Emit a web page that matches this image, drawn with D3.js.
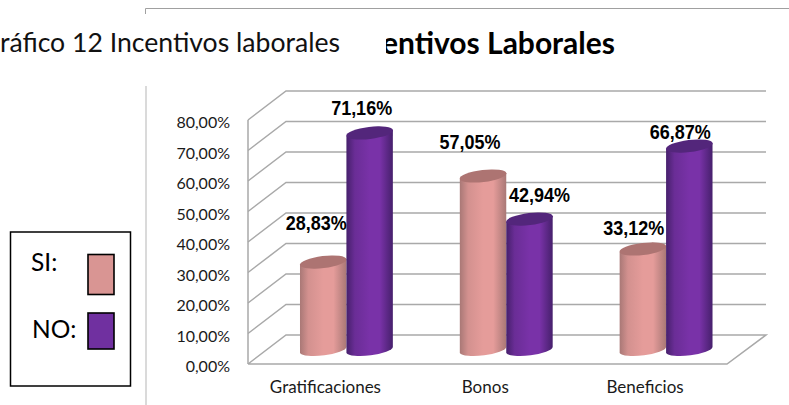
<!DOCTYPE html>
<html><head><meta charset="utf-8">
<script src="https://cdnjs.cloudflare.com/ajax/libs/d3/7.8.5/d3.min.js"></script>
<style>html,body{margin:0;padding:0;background:#fff;overflow:hidden}svg{display:block}</style>
</head><body><svg id="c" width="789" height="405"></svg>
<script>
const categories = ["Gratificaciones", "Bonos", "Beneficios"];
const seriesNames = ["SI", "NO"];
const siValues = [28.83, 57.05, 33.12];
const noValues = [71.16, 42.94, 66.87];
const siLabels = ["28,83%", "57,05%", "33,12%"];
const noLabels = ["71,16%", "42,94%", "66,87%"];
const tickValues = [0, 10, 20, 30, 40, 50, 60, 70, 80];
const tickLabels = ["0,00%", "10,00%", "20,00%", "30,00%", "40,00%", "50,00%", "60,00%", "70,00%", "80,00%"];

const svg = d3.select("#c");
const y = d3.scaleLinear().domain([0, 80]).range([350, 106]);
const x0 = d3.scaleBand().domain(categories).range([266.5, 746]).paddingInner(0.419).paddingOuter(0.2095);
const x1 = d3.scaleBand().domain(seriesNames).range([0, x0.bandwidth()]);
const frontDy = 14, backDy = -15, wallFront = 248, wallBack = 286, wallEnd = 766, floorEnd = 727;
const grid = "#a9a9a9", font = "Lato, 'Open Sans', sans-serif";

// gradients
const defs = svg.append("defs");
function grad(id, edge, mid) {
  const g = defs.append("linearGradient").attr("id", id);
  [[0, edge], [0.18, d3.interpolateRgb(edge, mid)(0.7)], [0.5, mid], [0.72, mid], [1, edge]].forEach(s =>
    g.append("stop").attr("offset", s[0]).attr("stop-color", s[1]));
}
grad("gSI", "#a97876", "#e59c9a");
grad("gNO", "#46206c", "#7932a8");
defs.append("clipPath").attr("id", "titleClip").append("rect").attr("x", 386).attr("y", 20).attr("width", 403).attr("height", 60);

// page frame
svg.append("path").attr("d", "M145.5 14V8.5H789").attr("fill", "none").attr("stroke", "#a0a0a0").attr("stroke-width", 1);
svg.append("line").attr("x1", 146).attr("x2", 146).attr("y1", 86).attr("y2", 405).attr("stroke", "#b5b5b5").attr("stroke-width", 1);

// caption and title
svg.append("text").attr("x", 340).attr("y", 52).attr("text-anchor", "end").attr("font-family", font).attr("font-size", 26.6).attr("fill", "#111").text("Gráfico 12 Incentivos laborales");
svg.append("g").attr("clip-path", "url(#titleClip)").append("text").attr("x", 615).attr("y", 54).attr("text-anchor", "end")
  .attr("font-family", font).attr("font-weight", 700).attr("font-size", 30).attr("fill", "#000").text("Incentivos Laborales");

// 3D walls
const gGrid = svg.append("g").attr("fill", "none").attr("stroke", grid).attr("stroke-width", 1.5);
gGrid.selectAll("path.g").data(tickValues).join("path").attr("class", "g")
  .attr("d", v => v === 0
    ? `M${wallFront} ${y(v) + frontDy}H${floorEnd}L${wallEnd} ${y(v) + backDy}H${wallBack}L${wallFront} ${y(v) + frontDy}`
    : `M${wallFront} ${y(v) + frontDy}L${wallBack} ${y(v) + backDy}H${wallEnd}`);
gGrid.append("line").attr("x1", wallFront).attr("x2", wallFront).attr("y1", y(80) + frontDy).attr("y2", y(0) + frontDy);

// y tick labels
svg.selectAll("text.tick").data(tickValues).join("text").attr("class", "tick")
  .attr("x", 230).attr("y", v => y(v) + frontDy + 8).attr("text-anchor", "end")
  .attr("font-family", font).attr("font-size", 16).attr("fill", "#1a1a1a").text((v, i) => tickLabels[i]);

// category labels
svg.selectAll("text.cat").data(categories).join("text").attr("class", "cat")
  .attr("x", d => x0(d) + x0.bandwidth() / 2 - 21).attr("y", 393).attr("text-anchor", "middle")
  .attr("font-family", font).attr("font-size", 17).attr("fill", "#1a1a1a").text(d => d);

// cylinders
const tilt = 3, ry = 6, angle = -7;
const marks = [];
categories.forEach((c, i) => {
  marks.push({c, s: "SI", v: siValues[i], top: "#ad7472"});
  marks.push({c, s: "NO", v: noValues[i], top: "#53267b"});
});
const bars = svg.selectAll("g.bar").data(marks).join("g").attr("class", "bar");
bars.append("path").attr("fill", d => `url(#g${d.s})`).attr("d", d => {
  const xl = x0(d.c) + x1(d.s), w = x1.bandwidth(), xr = xl + w, rx = w / 2 + .3;
  return `M${xl} ${y(d.v) + tilt}L${xl} ${y(0) + tilt}A${rx} ${ry} ${angle} 0 0 ${xr} ${y(0) - tilt}L${xr} ${y(d.v) - tilt}Z`;
});
bars.append("ellipse").attr("fill", d => d.top)
  .attr("rx", x1.bandwidth() / 2 + .3).attr("ry", ry)
  .attr("transform", d => `translate(${x0(d.c) + x1(d.s) + x1.bandwidth() / 2},${y(d.v)}) rotate(${angle})`);

// data labels (placement nudges relative to each column top)
const labelNudge = [[-7, -32], [-8, -18], [-13, -27], [10, -17], [-9, -14], [-9, -7]];
const allLabels = categories.flatMap((c, i) => [siLabels[i], noLabels[i]]);
svg.selectAll("text.val").data(marks).join("text").attr("class", "val")
  .attr("x", (d, i) => x0(d.c) + x1(d.s) + x1.bandwidth() / 2 + labelNudge[i][0])
  .attr("y", (d, i) => y(d.v) + labelNudge[i][1])
  .attr("text-anchor", "middle").attr("font-family", "'Liberation Sans',sans-serif")
  .attr("font-weight", 700).attr("font-size", 21).attr("fill", "#000")
  .attr("textLength", 61).attr("lengthAdjust", "spacingAndGlyphs")
  .text((d, i) => allLabels[i]);

// legend box
const lg = svg.append("g");
lg.append("rect").attr("x", 10.5).attr("y", 232).attr("width", 120).attr("height", 154).attr("fill", "#fff").attr("stroke", "#000").attr("stroke-width", 1.5);
const legendRows = [{n: seriesNames[0], c: "#d99593", ty: 271, lx: 31, ry: 254.5, h: 40}, {n: seriesNames[1], c: "#7030a0", ty: 338, lx: 32, ry: 313, h: 36}];
legendRows.forEach(r => {
  lg.append("text").attr("x", r.lx).attr("y", r.ty).attr("font-family", font).attr("font-size", 24.5).attr("fill", "#000").text(r.n + ":");
  lg.append("rect").attr("x", 88).attr("y", r.ry).attr("width", 26).attr("height", r.h).attr("fill", r.c).attr("stroke", "#000").attr("stroke-width", 1.6);
});
</script></body></html>
